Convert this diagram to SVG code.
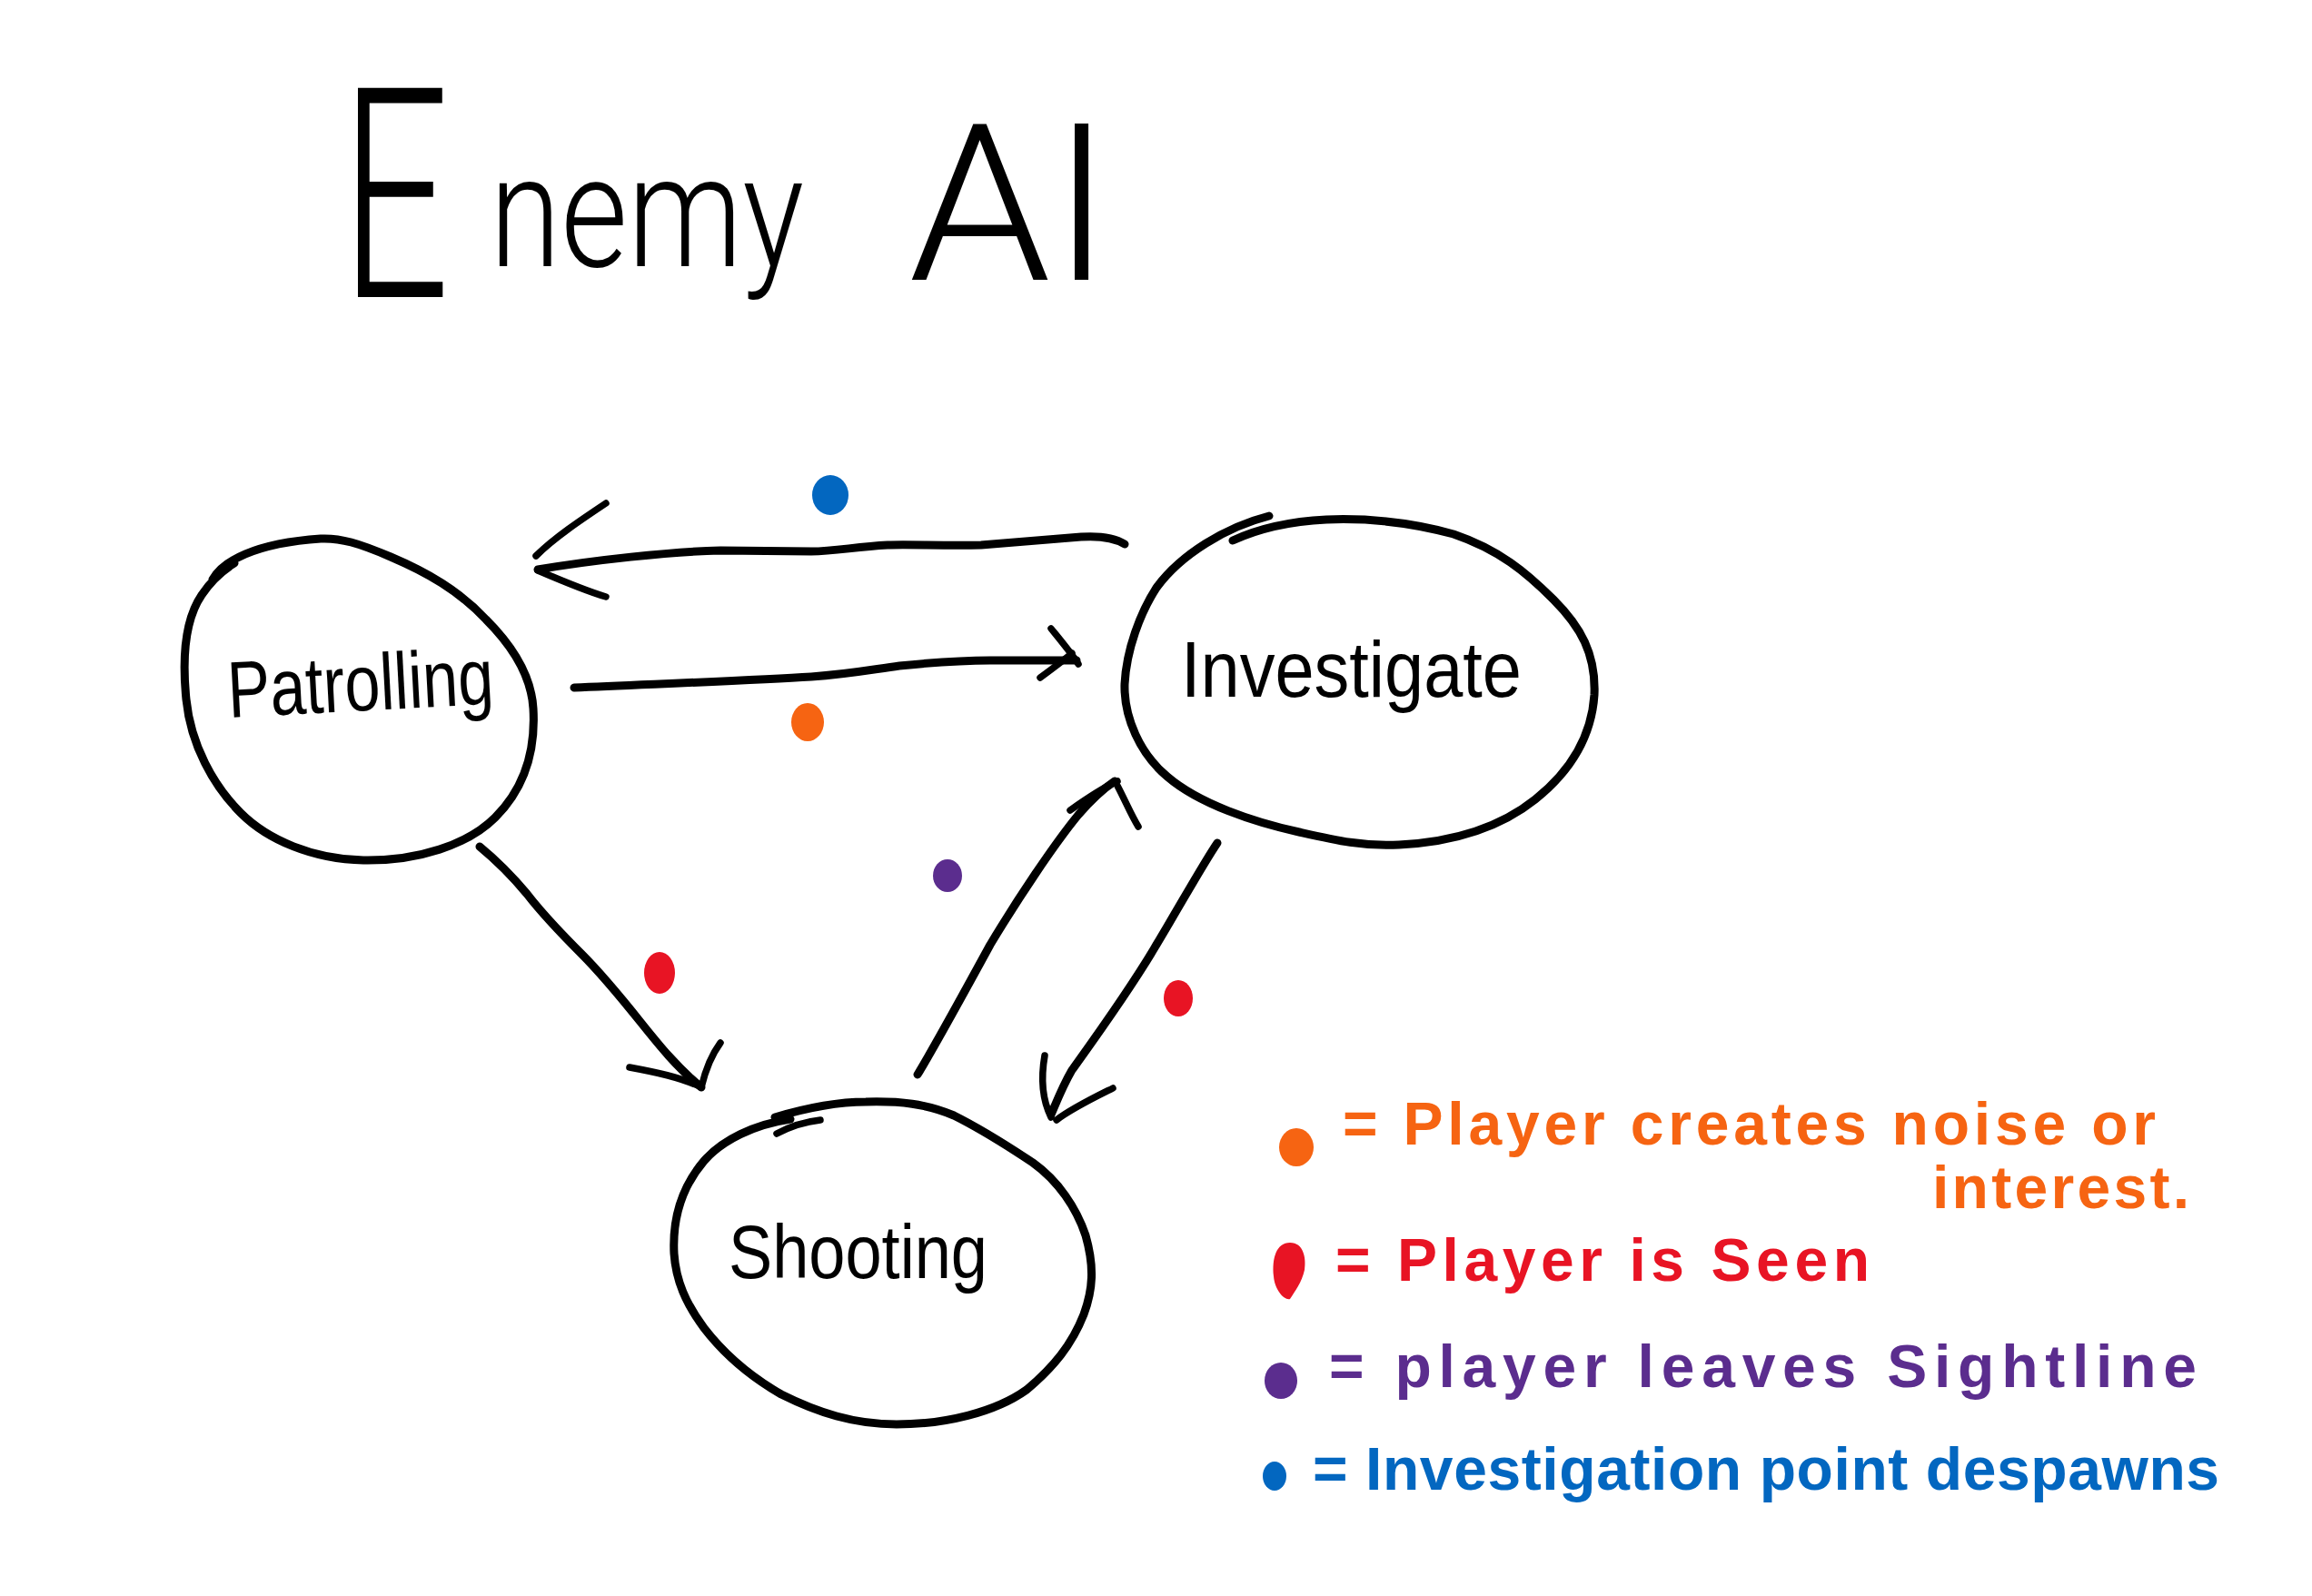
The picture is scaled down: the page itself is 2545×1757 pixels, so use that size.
<svg xmlns="http://www.w3.org/2000/svg" width="2545" height="1757" viewBox="0 0 2545 1757">
<style>
.ink{fill:none;stroke:#000;stroke-width:9;stroke-linecap:round;stroke-linejoin:round}
.arm{fill:none;stroke:#000;stroke-width:7.5;stroke-linecap:round;stroke-linejoin:round}
.lbl{font-family:"Liberation Sans",Arial,sans-serif;fill:#000}
.title{font-family:Roboto,"Liberation Sans",Arial,sans-serif;font-weight:300;fill:#000}
.leg{font-family:"Liberation Sans",Arial,sans-serif;font-weight:bold;font-size:66px}
.orange{fill:#F66412}.red{fill:#E81424}.purple{fill:#5B2D8E}.blue{fill:#0367C0}
</style>
<rect x="0" y="0" width="2545" height="1757" fill="#fff"/>

<g id="title">
<text class="title" y="327"><tspan x="375" font-size="324" textLength="120" lengthAdjust="spacingAndGlyphs">E</tspan><tspan x="539" y="293" font-size="173" textLength="346" lengthAdjust="spacingAndGlyphs">nemy</tspan><tspan x="1000" y="308" font-size="242" textLength="224" lengthAdjust="spacingAndGlyphs">AI</tspan></text>
</g>

<g id="node-patrolling">
<path class="ink" d="M234,638 C245,618 280,598 353,593 C375,592 395,598 430,613 C470,630 505,650 535,682 C565,712 585,745 587,780 C590,830 575,870 545,900 C515,930 460,948 400,947 C345,946 295,925 265,895 C235,865 210,820 205,770 C200,720 205,680 222,655 C232,640 245,628 258,620"/>
<text class="lbl" x="252" y="790" font-size="88" textLength="293" lengthAdjust="spacingAndGlyphs" transform="rotate(-3 252 790)">Patrolling</text>
</g>

<g id="node-investigate">
<path class="ink" d="M1397,568 C1350,580 1300,610 1273,647 C1255,675 1240,715 1238,753 C1237,790 1255,830 1285,855 C1320,885 1380,905 1430,916 C1470,925 1500,932 1540,930 C1600,927 1650,912 1690,880 C1730,848 1752,810 1755,765 C1757,720 1740,690 1710,660 C1680,630 1650,605 1600,588 C1560,577 1510,570 1460,572 C1420,574 1385,582 1357,595"/>
<text class="lbl" x="1300" y="767" font-size="88" textLength="375" lengthAdjust="spacingAndGlyphs">Investigate</text>
</g>

<g id="node-shooting">
<path class="ink" d="M853,1230 C900,1216 930,1213 953,1213 C990,1212 1020,1215 1050,1228 C1080,1243 1110,1262 1137,1280 C1165,1300 1185,1330 1195,1360 C1205,1395 1203,1420 1193,1447 C1180,1480 1160,1505 1130,1530 C1095,1555 1040,1568 987,1568 C940,1568 900,1555 860,1535 C820,1512 795,1488 775,1462 C755,1435 744,1410 742,1380 C740,1340 752,1305 775,1278 C795,1255 830,1238 870,1232"/>
<path class="arm" d="M855,1248 C870,1240 885,1235 903,1233"/>
<text class="lbl" x="802" y="1407" font-size="84" textLength="285" lengthAdjust="spacingAndGlyphs">Shooting</text>
</g>

<g id="connectors">
<g id="edge-investigate-patrolling">
<path class="ink" d="M1238,599 Q1222,589 1190,591 L1080,600 C1040,601 1000,599 977,600 C940,602 920,607 893,607 L793,606 C740,607 650,617 592,627"/>
<path class="arm" d="M667,554 C640,572 610,592 590,612"/>
<path class="arm" d="M592,628 C620,640 650,652 667,657"/>
<ellipse class="blue" cx="914" cy="545" rx="20" ry="22"/>
</g>
<g id="edge-patrolling-investigate">
<path class="ink" d="M632,757 C720,753 830,749 893,745 C935,742 960,737 990,733 C1030,729 1060,727 1090,727 L1185,727"/>
<path class="arm" d="M1157,692 C1170,708 1180,720 1187,731"/>
<path class="arm" d="M1145,746 C1160,735 1172,726 1180,719"/>
<ellipse class="orange" cx="889" cy="795" rx="18" ry="21"/>
</g>
<g id="edge-patrolling-shooting">
<path class="ink" d="M528,932 C545,946 560,960 580,984 C600,1010 620,1030 640,1050 C665,1075 685,1100 705,1125 C725,1150 745,1175 772,1197"/>
<path class="arm" d="M693,1175 C720,1180 750,1186 772,1197"/>
<path class="arm" d="M772,1197 C776,1180 782,1163 793,1148"/>
<ellipse class="red" cx="726" cy="1071" rx="17" ry="23"/>
</g>
<g id="edge-shooting-investigate">
<path class="ink" d="M1010,1183 C1030,1150 1060,1095 1090,1040 C1120,990 1160,930 1187,897 C1200,882 1212,870 1227,860"/>
<path class="arm" d="M1178,892 C1195,880 1212,868 1230,860"/>
<path class="arm" d="M1230,865 C1238,880 1245,897 1253,910"/>
<ellipse class="purple" cx="1043" cy="964" rx="16" ry="18"/>
</g>
<g id="edge-investigate-shooting">
<path class="ink" d="M1340,928 C1325,950 1300,995 1270,1045 C1240,1095 1200,1150 1180,1178 C1170,1195 1163,1213 1157,1227"/>
<path class="arm" d="M1150,1162 C1146,1185 1147,1210 1157,1230"/>
<path class="arm" d="M1163,1233 C1180,1220 1205,1208 1225,1198"/>
<ellipse class="red" cx="1297" cy="1099" rx="16" ry="20"/>
</g>
</g>

<g id="legend">
<ellipse class="orange" cx="1427" cy="1263" rx="19" ry="21"/>
<text class="leg orange" x="1478" y="1260" textLength="895">= Player creates noise or</text>
<text class="leg orange" x="2127" y="1330" font-size="60" textLength="283">interest.</text>
<path class="red" d="M1420,1368 C1435,1368 1438,1385 1436,1398 C1433,1412 1425,1422 1420,1430 C1414,1432 1403,1420 1402,1405 C1400,1385 1405,1368 1420,1368 Z"/>
<text class="leg red" x="1470" y="1410" textLength="588">= Player is Seen</text>
<ellipse class="purple" cx="1410" cy="1520" rx="18" ry="20"/>
<text class="leg purple" x="1463" y="1527" textLength="955">= player leaves Sightline</text>
<ellipse class="blue" cx="1403" cy="1625" rx="13" ry="16"/>
<text class="leg blue" x="1445" y="1640" textLength="998">= Investigation point despawns</text>
</g>
</svg>
